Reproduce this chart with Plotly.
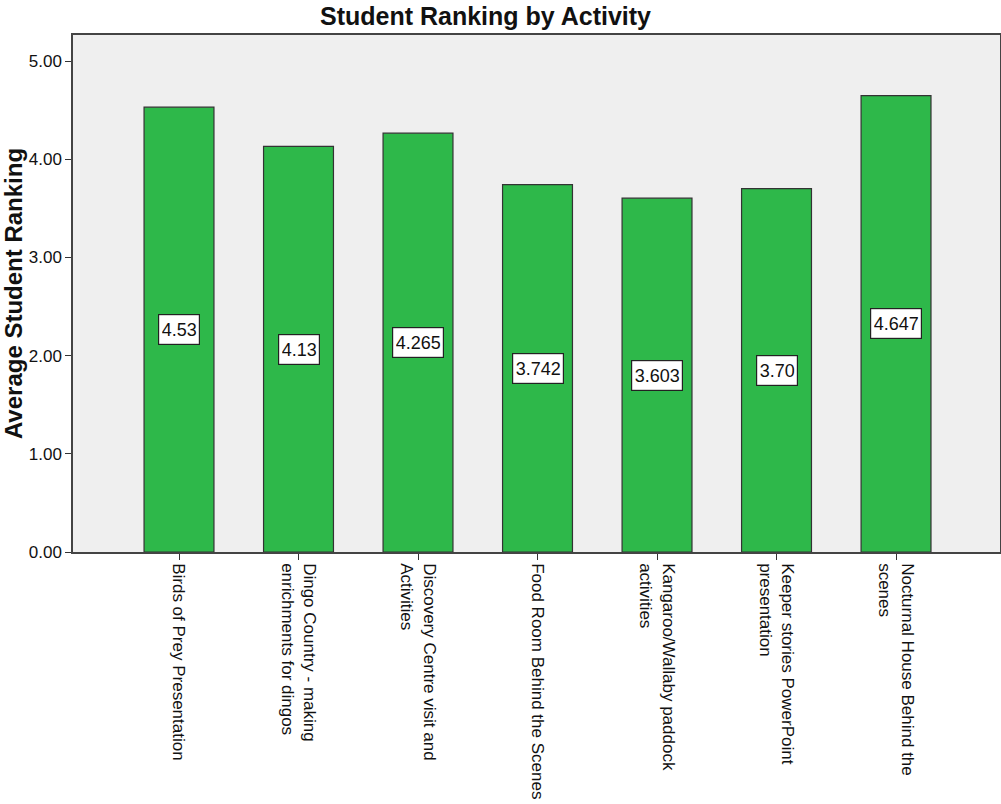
import plotly.graph_objects as go

categories = [
    "Birds of Prey Presentation",
    "Dingo Country - making<br>enrichments for dingos",
    "Discovery Centre visit and<br>Activities",
    "Food Room Behind the Scenes",
    "Kangaroo/Wallaby paddock<br>activities",
    "Keeper stories PowerPoint<br>presentation",
    "Nocturnal House Behind the<br>scenes",
]
values = [4.53, 4.13, 4.265, 3.742, 3.603, 3.70, 4.647]
value_labels = ["4.53", "4.13", "4.265", "3.742", "3.603", "3.70", "4.647"]
y_ticks = [0, 1, 2, 3, 4, 5]
y_tick_text = ["0.00", "1.00", "2.00", "3.00", "4.00", "5.00"]

FONT = "Liberation Sans, Arial, sans-serif"
xs = list(range(len(categories)))

fig = go.Figure()
fig.add_trace(go.Bar(
    x=xs, y=values, width=0.585,
    marker=dict(color="#2eb84a", line=dict(color="#333333", width=1.2)),
    hoverinfo="skip",
))

for x, v, t in zip(xs, values, value_labels):
    fig.add_annotation(x=x, y=v / 2, text=t, showarrow=False,
                       font=dict(family=FONT, size=18, color="#111111"),
                       bgcolor="white", bordercolor="#222222", borderwidth=1.2,
                       borderpad=2.5, height=24)

fig.update_layout(
    width=1001, height=804,
    margin=dict(l=73, r=1, t=35, b=252, autoexpand=False),
    paper_bgcolor="white", plot_bgcolor="#efefef",
    showlegend=False,
    title=dict(text="<b>Student Ranking by Activity</b>", x=0.485, xanchor="center",
               y=0.991, yanchor="top", yref="container",
               font=dict(family=FONT, size=25, color="#111111")),
    font=dict(family=FONT, color="#111111"),
)
fig.update_xaxes(
    range=[-0.887, 6.87], tickmode="array", tickvals=xs, ticktext=categories,
    tickangle=90, ticks="outside", ticklen=6, tickcolor="#333333",
    showline=True, linecolor="#444444", linewidth=1.5, mirror=True,
    showgrid=False, automargin=False,
    tickfont=dict(family=FONT, size=17, color="#111111"),
)
fig.update_yaxes(
    range=[0, 5.265], tickmode="array", tickvals=y_ticks, ticktext=y_tick_text,
    ticks="outside", ticklen=6, tickcolor="#333333",
    showline=True, linecolor="#444444", linewidth=1.5, mirror=True,
    showgrid=False, zeroline=False, automargin=False,
    tickfont=dict(family=FONT, size=17, color="#111111"),
    title=dict(text="<b>Average Student Ranking</b>", standoff=3,
               font=dict(family=FONT, size=24, color="#111111")),
)

fig.write_html("out.html", config={"displayModeBar": False},
               post_script="document.body.style.margin='0';document.body.style.overflow='hidden';")
